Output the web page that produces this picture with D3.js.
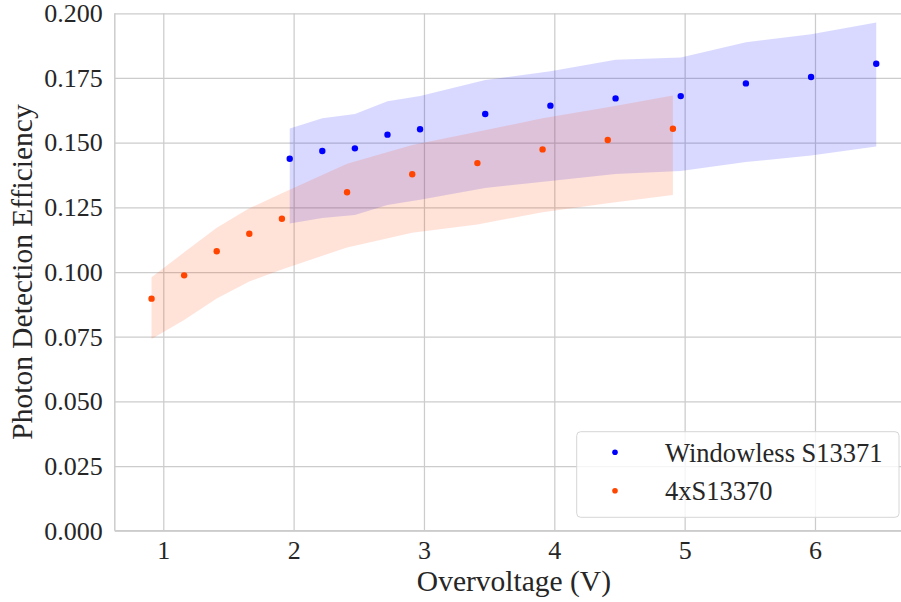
<!DOCTYPE html>
<html>
<head>
<meta charset="utf-8">
<script src="https://cdn.jsdelivr.net/npm/d3@7"></script>
<style>
body { margin: 0; background: white; }
svg text { font-family: 'Liberation Serif', 'Times New Roman', serif; }
</style>
</head>
<body>
<svg id="chart" width="901" height="602"></svg>
<script>
// Windowless S13371
var winV = [1.97, 2.22, 2.47, 2.72, 2.97, 3.47, 3.97, 4.47, 4.97, 5.47, 5.97, 6.47]
var winPde = [0.1438, 0.1468, 0.1478, 0.1531, 0.1552, 0.1611, 0.1643, 0.1671, 0.1680, 0.1729, 0.1754, 0.1805]
var winHigh = [0.1555, 0.1594, 0.1611, 0.1660, 0.1680, 0.1742, 0.1776, 0.1820, 0.1829, 0.1888, 0.1919, 0.1964]
var winLow = [0.1187, 0.1209, 0.1220, 0.1259, 0.1279, 0.1325, 0.1352, 0.1379, 0.1390, 0.1425, 0.1450, 0.1485]

// 4xS13370
var quadV = [0.91, 1.16, 1.41, 1.66, 1.91, 2.41, 2.91, 3.41, 3.91, 4.41, 4.91]
var quadPde = [0.0897, 0.0987, 0.1080, 0.1148, 0.1206, 0.1308, 0.1378, 0.1421, 0.1474, 0.1510, 0.1554]
var quadHigh = [0.0980, 0.1076, 0.1171, 0.1246, 0.1304, 0.1418, 0.1491, 0.1542, 0.1594, 0.1637, 0.1682]
var quadLow = [0.0741, 0.0814, 0.0898, 0.0963, 0.1010, 0.1095, 0.1152, 0.1184, 0.1231, 0.1266, 0.1298]

var seriesNames = ["Windowless S13371", "4xS13370"]
var xTicks = [1, 2, 3, 4, 5, 6]
var yTicks = [0, 0.025, 0.05, 0.075, 0.1, 0.125, 0.15, 0.175, 0.2]

var xleft = 114.8
var xright = 913
var ytop = 13.3
var ybottom = 530.7
var gridColor = "#cccccc"
var textColor = "#262626"
var fontName = "'Liberation Serif', 'Times New Roman', serif"

var svg = d3.select("#chart")

var xScale = d3.scaleLinear()
    .domain([0.628, 6.752])
    .range([xleft, xright])

var yScale = d3.scaleLinear()
    .domain([0, 0.2])
    .range([ybottom, ytop])

var yFormat = d3.format(".3f")

// grid + tick labels
var xAxis = d3.axisBottom(xScale)
    .tickValues(xTicks)
    .tickSize(-(ybottom - ytop))
    .tickPadding(10)
    .tickFormat(d3.format("d"))

var yAxis = d3.axisLeft(yScale)
    .tickValues(yTicks)
    .tickSize(-(xright - xleft))
    .tickPadding(12)
    .tickFormat(yFormat)

var gx = svg.append("g")
    .attr("transform", "translate(0," + ybottom + ")")
    .call(xAxis)
var gy = svg.append("g")
    .attr("transform", "translate(" + xleft + ",0)")
    .call(yAxis)

;[gx, gy].map(function(g){
    g.attr("font-family", fontName)
	.attr("font-size", "26px")
    g.select(".domain").remove()
    g.selectAll(".tick line")
	.attr("stroke", gridColor)
	.attr("stroke-width", 1.25)
    g.selectAll(".tick text")
	.attr("fill", textColor)
})

// spines
svg.append("line")
    .attr("x1", xleft).attr("x2", xleft)
    .attr("y1", ytop).attr("y2", ybottom)
    .attr("stroke", gridColor)
    .attr("stroke-width", 1.5)
svg.append("line")
    .attr("x1", xleft).attr("x2", xright)
    .attr("y1", ybottom).attr("y2", ybottom)
    .attr("stroke", gridColor)
    .attr("stroke-width", 1.5)

// bands
var areaFunction = d3.area()
    .x(function(d) { return xScale(d[0]); })
    .y0(function(d) { return yScale(d[1]); })
    .y1(function(d) { return yScale(d[2]); })

var winBand = winV.map(function(v, i){ return [v, winLow[i], winHigh[i]] })
var quadBand = quadV.map(function(v, i){ return [v, quadLow[i], quadHigh[i]] })

svg.append("path")
    .attr("d", areaFunction(winBand))
    .attr("fill", "blue")
    .attr("fill-opacity", 0.15)
svg.append("path")
    .attr("d", areaFunction(quadBand))
    .attr("fill", "orangered")
    .attr("fill-opacity", 0.15)

// points
function drawDots(vs, ps, color){
    svg.append("g")
	.selectAll("circle")
	.data(vs)
	.enter()
	.append("circle")
	.attr("cx", function(d) { return xScale(d); })
	.attr("cy", function(d, i) { return yScale(ps[i]); })
	.attr("r", 3.2)
	.attr("fill", color)
}
drawDots(winV, winPde, "blue")
drawDots(quadV, quadPde, "orangered")

// axis labels
svg.append("text")
    .attr("x", (xleft + 901) / 2 + 6)
    .attr("y", 591)
    .attr("text-anchor", "middle")
    .attr("fill", textColor)
    .attr("font-family", fontName)
    .attr("font-size", "29.5px")
    .text("Overvoltage (V)")

svg.append("text")
    .attr("transform", "translate(32," + ((ytop + ybottom) / 2) + ") rotate(-90)")
    .attr("text-anchor", "middle")
    .attr("fill", textColor)
    .attr("font-family", fontName)
    .attr("font-size", "29.5px")
    .text("Photon Detection Efficiency")

// legend
var legend = svg.append("g")
legend.append("rect")
    .attr("x", 576.7)
    .attr("y", 431.7)
    .attr("width", 322.3)
    .attr("height", 85.6)
    .attr("rx", 4)
    .attr("fill", "white")
    .attr("fill-opacity", 0.8)
    .attr("stroke", "#d6d6d6")
    .attr("stroke-width", 1)

var legendColors = ["blue", "orangered"]
seriesNames.map(function(name, i){
    legend.append("circle")
	.attr("cx", 615)
	.attr("cy", 452.3 + 38.4 * i)
	.attr("r", 2.8)
	.attr("fill", legendColors[i])
    legend.append("text")
	.attr("x", 665)
	.attr("y", 461.5 + 38.4 * i)
	.attr("fill", textColor)
	.attr("font-family", fontName)
	.attr("font-size", "26.5px")
	.text(name)
})
</script>
</body>
</html>
